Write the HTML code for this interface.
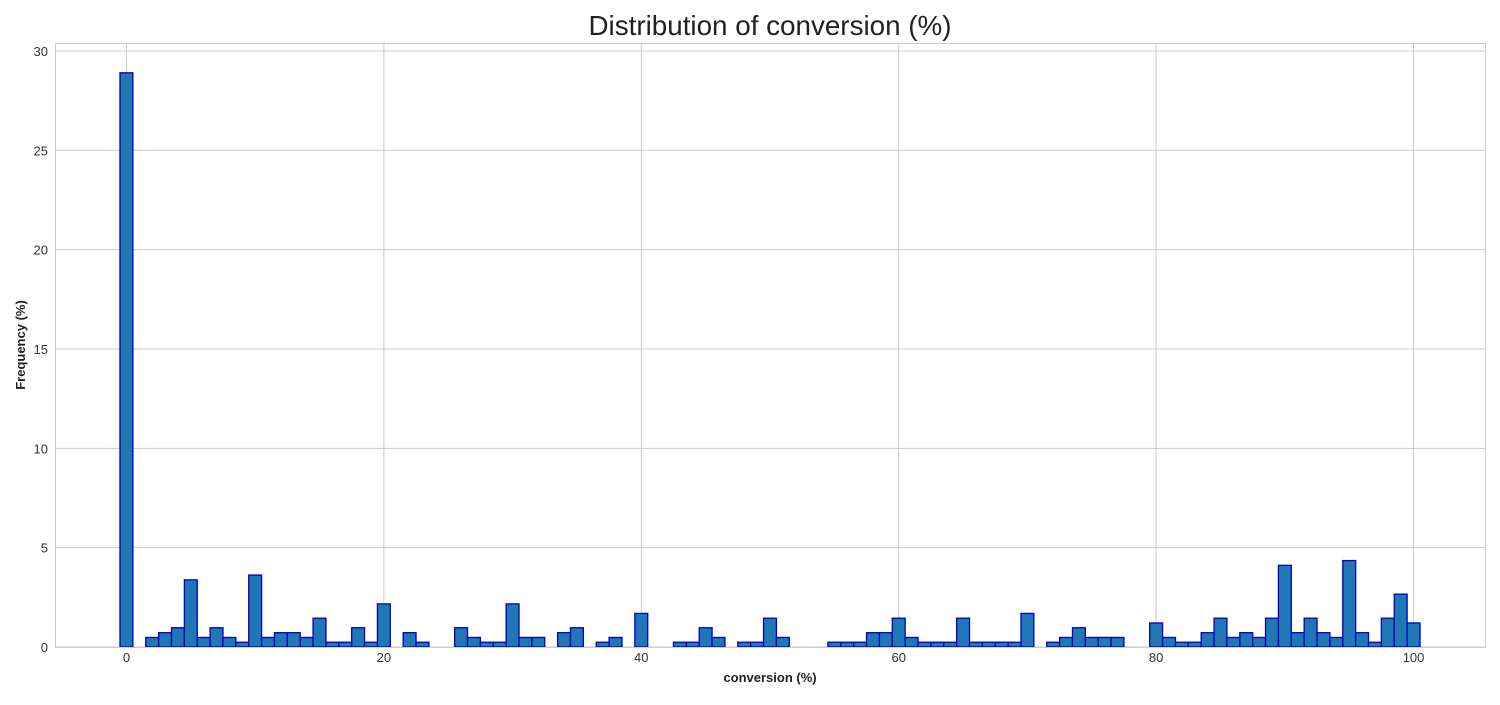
<!DOCTYPE html>
<html><head><meta charset="utf-8"><style>
body{margin:0;background:#fff;font-family:"Liberation Sans",sans-serif;}
</style></head><body>
<svg id="chart" width="1500" height="700" xmlns="http://www.w3.org/2000/svg" font-family="Liberation Sans, sans-serif">
<text x="770" y="35" font-size="27.8" text-anchor="middle" fill="#222">Distribution of conversion (%)</text>
<g id="grid"></g>
<g id="bars"></g>
<rect x="55.5" y="43.5" width="1430" height="604" fill="none" stroke="#ccc" stroke-width="1"/>
<g id="ticks"></g>
<text x="770" y="682" font-size="13" font-weight="bold" text-anchor="middle" fill="#222">conversion (%)</text>
<text transform="translate(25,345) rotate(-90)" font-size="13" font-weight="bold" text-anchor="middle" fill="#222">Frequency (%)</text>
</svg>
<script>
const binCenters = Array.from({length:101},(_,i)=>i);
const frequencies = [28.9,0,0.48,0.72,0.97,3.38,0.48,0.97,0.48,0.24,
3.62,0.48,0.72,0.72,0.48,1.45,0.24,0.24,0.97,0.24,
2.17,0,0.72,0.24,0,0,0.97,0.48,0.24,0.24,
2.17,0.48,0.48,0,0.72,0.97,0,0.24,0.48,0,
1.69,0,0,0.24,0.24,0.97,0.48,0,0.24,0.24,
1.45,0.48,0,0,0,0.24,0.24,0.24,0.72,0.72,
1.45,0.48,0.24,0.24,0.24,1.45,0.24,0.24,0.24,0.24,
1.69,0,0.24,0.48,0.97,0.48,0.48,0.48,0,0,
1.21,0.48,0.24,0.24,0.72,1.45,0.48,0.72,0.48,1.45,
4.11,0.72,1.45,0.72,0.48,4.35,0.72,0.24,1.45,2.66,1.21];
const xTicks = [0,20,40,60,80,100];
const yTicks = [0,5,10,15,20,25,30];
const binWidth = 1;

const L=55,R=1485,T=43,B=647, xMin=-5.55,xMax=105.55,yMin=0,yMax=30.4;
const sx=v=>L+(v-xMin)/(xMax-xMin)*(R-L);
const sy=v=>B-(v-yMin)/(yMax-yMin)*(B-T);
const NS="http://www.w3.org/2000/svg";
const grid=document.getElementById('grid'),bars=document.getElementById('bars'),ticks=document.getElementById('ticks');
function mk(tag,attrs,parent){const e=document.createElementNS(NS,tag);for(const k in attrs)e.setAttribute(k,attrs[k]);parent.appendChild(e);return e;}
xTicks.forEach(t=>{
  const l=mk('line',{x1:sx(t),x2:sx(t),y1:T,y2:B,stroke:'#ccc','stroke-width':1},grid);
  
  
  const tx=mk('text',{x:sx(t),y:B+15,'font-size':13,'text-anchor':'middle',fill:'#333'},ticks);
  tx.textContent=t;
  
  
});
yTicks.forEach(t=>{
  const l=mk('line',{x1:L,x2:R,y1:sy(t),y2:sy(t),stroke:'#ccc','stroke-width':1},grid);
  
  
  const tx=mk('text',{x:L-7,y:sy(t)+5,'font-size':13,'text-anchor':'end',fill:'#333'},ticks);
  tx.textContent=t;
  
  
});
binCenters.forEach((c,i)=>{
  const v=frequencies[i]; if(!v) return;
  const x0=sx(c-binWidth/2),x1=sx(c+binWidth/2);
  const r=mk('rect',{x:x0,y:sy(v),width:x1-x0,height:sy(0)-sy(v),fill:'#1f77b4',stroke:'#0000cc','stroke-width':1.3},bars);
  
  
});
</script>
</body></html>
